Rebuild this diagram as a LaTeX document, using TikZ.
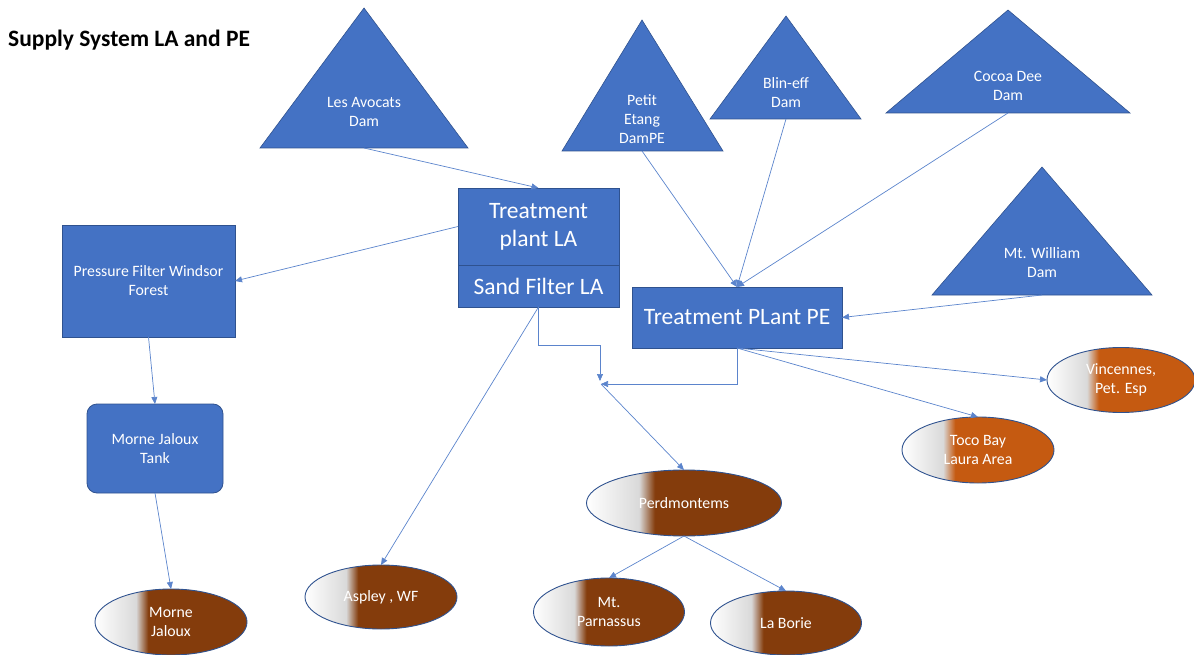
\documentclass[tikz,border=0pt]{standalone}
\usepackage{fontspec}
\setmainfont{Carlito}
\usetikzlibrary{shapes.geometric,arrows.meta}
\definecolor{obl}{HTML}{4472C4}
\definecolor{obd}{HTML}{2F528F}
\definecolor{brn}{HTML}{843C0C}
\definecolor{org}{HTML}{C55A11}
\definecolor{lnk}{HTML}{5B84CC}
\pgfdeclarehorizontalshading{brnsh}{100bp}{color(0bp)=(white); color(25bp)=(white); color(37bp)=(black!13); color(38.5bp)=(black!15); color(42.5bp)=(brn); color(100bp)=(brn)}
\pgfdeclarehorizontalshading{orgsh}{100bp}{color(0bp)=(white); color(25bp)=(white); color(37bp)=(black!13); color(38.5bp)=(black!15); color(42.5bp)=(org); color(100bp)=(org)}
\begin{document}
\begin{tikzpicture}[x=1pt,y=-1pt,
  box/.style={draw=obd, fill=obl, text=white, inner sep=0pt, outer sep=0pt, align=center, line width=0.8pt},
  big/.style={font=\fontsize{23.5}{28}\selectfont},
  small/.style={font=\fontsize{15.8}{19}\selectfont},
  dam/.style={draw=obd, fill=obl, line width=0.6pt},
  damtxt/.style={text=white, align=center, inner sep=0pt, font=\fontsize{15.8}{19}\selectfont},
  town/.style={ellipse, draw=obd, line width=0.9pt, text=white, align=center, inner sep=0pt, outer sep=0pt, font=\fontsize{15.8}{19}\selectfont},
  brown/.style={town, shading=brnsh},
  orange/.style={town, shading=orgsh},
  link/.style={draw=lnk, line width=0.7pt, -{Triangle[length=7pt,width=6pt]}}
]
\useasboundingbox (0,0) rectangle (1194,655);
% title
\node[anchor=west, inner sep=0pt, font=\fontsize{23.5}{27}\selectfont\bfseries] (title) at (8,40) {Supply System LA and PE};

% dams (triangles)
\path[dam] (364,8) -- (468,148) -- (260,148) -- cycle;
\coordinate (lad) at (364,148);
\node[damtxt] (ladt) at (364,112) {Les Avocats\\Dam};

\path[dam] (642,20) -- (723,151) -- (562,151) -- cycle;
\coordinate (ped) at (642,151);
\node[damtxt] (pedt) at (642,119) {Petit\\Etang\\DamPE};

\path[dam] (786,16) -- (861,119) -- (710,119) -- cycle;
\coordinate (bed) at (786,119);
\node[damtxt] (bedt) at (786,93) {Blin-eff\\Dam};

\path[dam] (1008,10) -- (1130,113) -- (886,113) -- cycle;
\coordinate (cdd) at (1008,113);
\node[damtxt] (cddt) at (1008,86) {Cocoa Dee\\Dam};

\path[dam] (1042,167) -- (1152,295) -- (932,295) -- cycle;
\coordinate (mwd) at (1042,295);
\node[damtxt] (mwdt) at (1042,263) {Mt. William\\Dam};

% boxes
\node[box, big, minimum width=161, minimum height=77] (tpla) at (538.5,226.5) {Treatment\\plant LA};
\node[box, big, minimum width=161, minimum height=42] (sfla) at (538.5,286) {Sand Filter LA};
\node[box, big, minimum width=210, minimum height=61] (tppe) at (737,317.5) {Treatment PLant PE};
\node[box, small, minimum width=173, minimum height=112] (pfwf) at (148.5,281) {Pressure Filter Windsor\\Forest};
\node[box, small, minimum width=136, minimum height=89, rounded corners=10pt] (mjt) at (155,448.5) {Morne Jaloux\\Tank};

% towns
\node[brown, minimum width=152, minimum height=66] (mj) at (171,622) {Morne\\Jaloux};
\node[brown, minimum width=152, minimum height=64] (asp) at (381,597) {Aspley , WF};
\node[brown, minimum width=195, minimum height=66] (per) at (684,503) {Perdmontems};
\node[brown, minimum width=151, minimum height=68] (mtp) at (609,612) {Mt.\\Parnassus};
\node[brown, minimum width=151, minimum height=64] (lab) at (786,623) {La Borie};
\node[orange, minimum width=152, minimum height=66] (toco) at (978,450) {Toco Bay\\Laura Area};
\node[orange, minimum width=148, minimum height=65] (vin) at (1121,380) {Vincennes,\\Pet. Esp};

% junction points
\coordinate (jv) at (600,381);
\coordinate (jh) at (601,384);

% connectors
\draw[link] (lad) -- (tpla.north);
\draw[link] (tpla.west) -- (pfwf.east);
\draw[link] (pfwf.south) -- (mjt.north);
\draw[link] (mjt.south) -- (mj.north);
\draw[link] (sfla.south) -- (asp.north);
\draw[link] (sfla.south) -- ++(0,38) -| (jv);
\draw[link] (tppe.south) |- (jh);
\draw[link] (jh) -- (per.north);
\draw[link] (per.south) -- (mtp.north);
\draw[link] (per.south) -- (lab.north);
\draw[link] (ped) -- (tppe.north);
\draw[link] (bed) -- (tppe.north);
\draw[link] (cdd) -- (tppe.north);
\draw[link] (mwd) -- (tppe.east);
\draw[link] (tppe.south) -- (toco.north);
\draw[link] (tppe.south) -- (vin.west);
\end{tikzpicture}
\end{document}
